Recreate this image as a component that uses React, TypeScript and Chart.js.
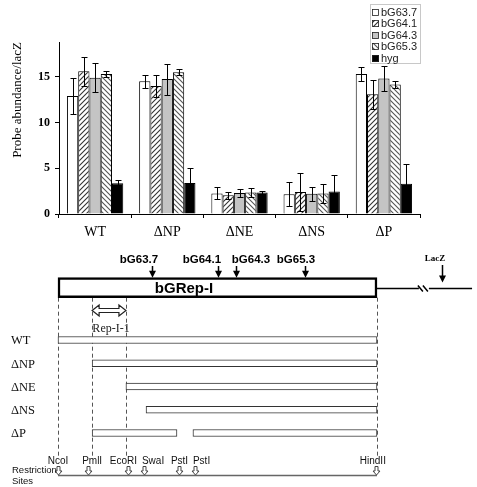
import React, { useEffect, useRef } from "react";
import { Chart, registerables } from "chart.js";
Chart.register(...registerables);

// ---------- bar chart data ----------
const groups = ["WT", "ΔNP", "ΔNE", "ΔNS", "ΔP"];
const probes = ["bG63.7", "bG64.1", "bG64.3", "bG65.3", "hyg"];
const bG637 = [12.9, 14.5, 2.25, 2.15, 15.3];
const bG637Err = [2.0, 0.7, 0.65, 1.3, 0.8];
const bG641 = [15.6, 14.0, 2.05, 2.4, 13.1];
const bG641Err = [1.6, 1.2, 0.4, 2.05, 1.6];
const bG643 = [14.9, 14.75, 2.3, 2.2, 14.8];
const bG643Err = [1.6, 1.7, 0.45, 0.75, 1.4];
const bG653 = [15.3, 15.5, 2.35, 2.25, 14.15];
const bG653Err = [0.3, 0.3, 0.5, 1.0, 0.35];
const hyg = [3.35, 3.4, 2.35, 2.45, 3.3];
const hygErr = [0.4, 1.6, 0.2, 1.8, 2.2];
const yTicks = [0, 5, 10, 15];
const yMax = 18.8;

// ---------- map data (positions in map units, NcoI = 0, HindII end = 1000) ----------
const constructs = ["WT", "ΔNP", "ΔNE", "ΔNS", "ΔP"];
const segRow = [0, 1, 2, 3, 4, 4];
const segStart = [0, 107, 213, 276, 107, 423];
const segEnd = [1000, 1000, 1000, 1000, 373, 1000];
const repSpan = [0, 1000];
const genes = ["bG63.7", "bG64.1", "bG64.3", "bG65.3"];
const genePos = [295, 502, 558, 774];
const geneLabelPos = [254, 451, 605, 746];
const boundaries = [0, 107, 213, 1000];
const rep11 = [107, 213];
const sites = ["NcoI", "PmlI", "EcoRI", "SwaI", "PstI", "PstI", "HindII"];
const sitePos = [0, 94, 219, 270, 379, 429, 997];
const siteLabelPos = [0, 107, 205, 298, 381, 450, 987];
const lacZPos = 1204;
const lacZLabelPos = 1182;
const lacZLineEnd = 1298;
const lacZBreak = 1147;

const SERIF = "'Liberation Serif', 'Times New Roman', Times, serif";
const SANS = "'Liberation Sans', Arial, Helvetica, sans-serif";

function hatch(ctx: CanvasRenderingContext2D, dir: number, color: string) {
  const s = 5;
  const c = document.createElement("canvas");
  c.width = s;
  c.height = s;
  const g = c.getContext("2d")!;
  g.fillStyle = "#ffffff";
  g.fillRect(0, 0, s, s);
  g.strokeStyle = color;
  g.lineWidth = 1.1;
  g.beginPath();
  if (dir > 0) {
    g.moveTo(-1, s + 1); g.lineTo(s + 1, -1);
    g.moveTo(-1, 1); g.lineTo(1, -1);
    g.moveTo(s - 1, s + 1); g.lineTo(s + 1, s - 1);
  } else {
    g.moveTo(-1, -1); g.lineTo(s + 1, s + 1);
    g.moveTo(s - 1, -1); g.lineTo(s + 1, 1);
    g.moveTo(-1, s - 1); g.lineTo(1, s + 1);
  }
  g.stroke();
  return ctx.createPattern(c, "repeat")!;
}

const errorBars = {
  id: "errorBars",
  afterDatasetsDraw(chart: any) {
    const { ctx } = chart;
    const y = chart.scales.y;
    ctx.save();
    ctx.strokeStyle = "#000";
    ctx.lineWidth = 1;
    chart.data.datasets.forEach((ds: any, i: number) => {
      const meta = chart.getDatasetMeta(i);
      meta.data.forEach((bar: any, j: number) => {
        const v = ds.data[j];
        const e = ds.errors[j];
        const x = Math.round(bar.x) + 0.5;
        const t = Math.round(y.getPixelForValue(v + e)) + 0.5;
        const b = Math.round(y.getPixelForValue(v - e)) + 0.5;
        ctx.beginPath();
        ctx.moveTo(x, t); ctx.lineTo(x, b);
        ctx.moveTo(x - 3, t); ctx.lineTo(x + 3, t);
        ctx.moveTo(x - 3, b); ctx.lineTo(x + 3, b);
        ctx.stroke();
      });
    });
    ctx.restore();
  },
};

const boxLegend = {
  id: "boxLegend",
  afterDraw(chart: any) {
    const { ctx } = chart;
    ctx.save();
    ctx.strokeStyle = "#c8c8c8";
    ctx.lineWidth = 1;
    ctx.strokeRect(370.5, 4.5, 50, 59);
    ctx.font = `11px ${SANS}`;
    ctx.textBaseline = "middle";
    ctx.textAlign = "left";
    chart.data.datasets.forEach((ds: any, i: number) => {
      const yy = 12 + i * 11.6;
      ctx.fillStyle = ds.backgroundColor;
      ctx.fillRect(372, Math.round(yy - 3.5), 7, 7);
      ctx.strokeStyle = "#222";
      ctx.lineWidth = 0.8;
      ctx.strokeRect(372.5, Math.round(yy - 3.5) + 0.5, 6, 6);
      ctx.fillStyle = "#222";
      ctx.fillText(ds.label, 381, yy + 0.5);
    });
    ctx.restore();
  },
};

function barConfig(ctx: CanvasRenderingContext2D): any {
  const values = [bG637, bG641, bG643, bG653, hyg];
  const errs = [bG637Err, bG641Err, bG643Err, bG653Err, hygErr];
  const fills: any[] = ["#ffffff", hatch(ctx, 1, "#333"), "#c4c4c4", hatch(ctx, -1, "#555"), "#000000"];
  return {
    type: "bar",
    data: {
      labels: groups,
      datasets: probes.map((p, i) => ({
        label: p,
        data: values[i],
        errors: errs[i],
        backgroundColor: fills[i],
        borderColor: "#000",
        borderWidth: 1,
        categoryPercentage: 0.78,
        barPercentage: 1,
      })),
    },
    options: {
      responsive: false,
      animation: false,
      events: [],
      layout: { padding: { top: 42, right: 57, left: 0, bottom: 0 } },
      plugins: { legend: { display: false }, tooltip: { enabled: false } },
      scales: {
        x: {
          grid: { display: true, drawOnChartArea: false, drawTicks: true, tickLength: 4, color: "#000", offset: true },
          border: { display: true, color: "#000", width: 1 },
          ticks: { font: { family: SERIF, size: 14 }, color: "#000", padding: 6, maxRotation: 0 },
          afterFit: (s: any) => { s.height = 26; },
        },
        y: {
          min: 0,
          max: yMax,
          afterBuildTicks: (s: any) => { s.ticks = yTicks.map((v) => ({ value: v })); },
          ticks: { font: { family: SERIF, size: 12, weight: "bold" }, color: "#000", padding: 5 },
          grid: { display: true, drawOnChartArea: false, tickLength: 4, color: "#000" },
          border: { display: true, color: "#000", width: 1 },
          title: {
            display: true,
            text: "Probe abundance/lacZ",
            align: "end",
            font: { family: SERIF, size: 13 },
            color: "#000",
            padding: { top: 10, bottom: 0 },
          },
          afterFit: (s: any) => { s.width = 59; },
        },
      },
    },
    plugins: [errorBars, boxLegend],
  };
}

const BOX_ROW = -2.25;

function downHollowArrow(ctx: CanvasRenderingContext2D, x: number, yT: number, yB: number) {
  ctx.beginPath();
  ctx.moveTo(x - 1.5, yT);
  ctx.lineTo(x + 1.5, yT);
  ctx.lineTo(x + 1.5, yB - 4);
  ctx.lineTo(x + 3.5, yB - 4);
  ctx.lineTo(x, yB);
  ctx.lineTo(x - 3.5, yB - 4);
  ctx.lineTo(x - 1.5, yB - 4);
  ctx.closePath();
  ctx.fillStyle = "#fff";
  ctx.fill();
  ctx.stroke();
}

function downSolidArrow(ctx: CanvasRenderingContext2D, x: number, yT: number, yB: number) {
  ctx.beginPath();
  ctx.moveTo(x, yT);
  ctx.lineTo(x, yB - 6);
  ctx.lineWidth = 1.5;
  ctx.stroke();
  ctx.beginPath();
  ctx.moveTo(x - 3.5, yB - 7);
  ctx.lineTo(x + 3.5, yB - 7);
  ctx.lineTo(x, yB);
  ctx.closePath();
  ctx.fill();
}

const mapDecor = {
  id: "mapDecor",
  beforeDatasetsDraw(chart: any) {
    const { ctx } = chart;
    const x = chart.scales.x;
    const y = chart.scales.y;
    const top = y.getPixelForValue(BOX_ROW) + 10;
    ctx.save();
    ctx.setLineDash([4, 3]);
    ctx.strokeStyle = "#555";
    ctx.lineWidth = 1;
    boundaries.forEach((b) => {
      const px = Math.round(x.getPixelForValue(b)) + 0.5;
      ctx.beginPath();
      ctx.moveTo(px, top);
      ctx.lineTo(px, 216);
      ctx.stroke();
    });
    ctx.restore();
  },
  afterDatasetsDraw(chart: any) {
    const { ctx } = chart;
    const x = chart.scales.x;
    const y = chart.scales.y;
    const boxY = y.getPixelForValue(BOX_ROW);
    ctx.save();

    // box title
    ctx.fillStyle = "#000";
    ctx.font = `bold 15px ${SANS}`;
    ctx.textAlign = "center";
    ctx.textBaseline = "middle";
    ctx.fillText("bGRep-I", 184, boxY + 1);

    // gene arrows
    ctx.font = `bold 11.5px ${SANS}`;
    genes.forEach((g, i) => {
      ctx.fillStyle = "#000";
      ctx.fillText(g, x.getPixelForValue(geneLabelPos[i]), 20);
      ctx.strokeStyle = "#000";
      downSolidArrow(ctx, Math.round(x.getPixelForValue(genePos[i])) + 0.5, 26, boxY - 10);
    });

    // LacZ line, break, arrow
    const xEnd = x.getPixelForValue(repSpan[1]);
    const xBrk = x.getPixelForValue(lacZBreak);
    const xLineEnd = x.getPixelForValue(lacZLineEnd);
    const ly = Math.round(boxY) + 0.5;
    ctx.strokeStyle = "#000";
    ctx.lineWidth = 1.5;
    ctx.beginPath();
    ctx.moveTo(xEnd, ly); ctx.lineTo(xBrk - 5, ly);
    ctx.moveTo(xBrk + 5, ly); ctx.lineTo(xLineEnd, ly);
    ctx.moveTo(xBrk - 6, ly - 3); ctx.lineTo(xBrk - 1, ly + 3);
    ctx.moveTo(xBrk - 1, ly - 3); ctx.lineTo(xBrk + 4, ly + 3);
    ctx.stroke();
    const lx = Math.round(x.getPixelForValue(lacZPos)) + 0.5;
    ctx.fillStyle = "#000";
    downSolidArrow(ctx, lx, 25, ly - 6);
    ctx.font = `bold 9px ${SERIF}`;
    ctx.fillText("LacZ", x.getPixelForValue(lacZLabelPos), 19);

    // Rep-I-1 double arrow
    const xl = x.getPixelForValue(rep11[0]);
    const xr = x.getPixelForValue(rep11[1]);
    const ay = 70.5;
    ctx.beginPath();
    ctx.moveTo(xl, ay);
    ctx.lineTo(xl + 7, ay - 5.5);
    ctx.lineTo(xl + 7, ay - 2);
    ctx.lineTo(xr - 7, ay - 2);
    ctx.lineTo(xr - 7, ay - 5.5);
    ctx.lineTo(xr, ay);
    ctx.lineTo(xr - 7, ay + 5.5);
    ctx.lineTo(xr - 7, ay + 2);
    ctx.lineTo(xl + 7, ay + 2);
    ctx.lineTo(xl + 7, ay + 5.5);
    ctx.closePath();
    ctx.fillStyle = "#fff";
    ctx.fill();
    ctx.strokeStyle = "#222";
    ctx.lineWidth = 1.2;
    ctx.stroke();
    ctx.fillStyle = "#222";
    ctx.font = `12px ${SERIF}`;
    ctx.fillText("Rep-I-1", (xl + xr) / 2 + 2, 89);

    // construct labels
    ctx.textAlign = "left";
    ctx.font = `12.5px ${SERIF}`;
    ctx.fillStyle = "#111";
    constructs.forEach((c, i) => {
      ctx.fillText(c, 11, y.getPixelForValue(i) + 1);
    });

    // restriction sites
    const base = 235.5;
    ctx.strokeStyle = "#666";
    ctx.lineWidth = 1.5;
    ctx.beginPath();
    ctx.moveTo(x.getPixelForValue(repSpan[0]), base);
    ctx.lineTo(x.getPixelForValue(repSpan[1]), base);
    ctx.stroke();
    ctx.lineWidth = 1;
    ctx.strokeStyle = "#444";
    ctx.font = `10px ${SANS}`;
    ctx.textAlign = "center";
    ctx.fillStyle = "#111";
    sites.forEach((s, i) => {
      ctx.fillStyle = "#111";
      ctx.fillText(s, x.getPixelForValue(siteLabelPos[i]), 221);
      downHollowArrow(ctx, Math.round(x.getPixelForValue(sitePos[i])) + 0.5, 226.5, 235);
    });
    ctx.fillStyle = "#111";
    ctx.textAlign = "left";
    ctx.font = `9.5px ${SANS}`;
    ctx.fillText("Restriction", 12, 230);
    ctx.fillText("Sites", 12, 241);
    ctx.restore();
  },
};

function mapConfig(): any {
  return {
    type: "bar",
    data: {
      datasets: [
        {
          label: "bGRep-I",
          data: [{ x: repSpan, y: BOX_ROW }],
          barThickness: 20,
          borderWidth: 2.5,
          borderColor: "#000",
          backgroundColor: "#fff",
          borderSkipped: false,
          grouped: false,
        },
        {
          label: "constructs",
          data: segStart.map((s, i) => ({ x: [s, segEnd[i]], y: segRow[i] })),
          barThickness: 7,
          borderWidth: 1,
          borderColor: "#333",
          backgroundColor: "#fff",
          borderSkipped: false,
          grouped: false,
        },
      ],
    },
    options: {
      indexAxis: "y",
      responsive: false,
      animation: false,
      events: [],
      layout: { padding: 0 },
      plugins: { legend: { display: false }, tooltip: { enabled: false } },
      scales: {
        x: { type: "linear", display: false, min: -181.8, max: 1313.5, offset: false },
        y: { type: "linear", display: false, min: -4.3, max: 6.32, reverse: true, offset: false, grid: { offset: false } },
      },
    },
    plugins: [mapDecor],
  };
}

export default function App() {
  const barRef = useRef<HTMLCanvasElement>(null);
  const mapRef = useRef<HTMLCanvasElement>(null);
  useEffect(() => {
    const c1 = new Chart(barRef.current!, barConfig(barRef.current!.getContext("2d")!));
    const c2 = new Chart(mapRef.current!, mapConfig());
    return () => {
      c1.destroy();
      c2.destroy();
    };
  }, []);
  return (
    <div style={{ position: "fixed", left: 0, top: 0, width: 477, height: 487, background: "#fff" }}>
      <canvas ref={barRef} width={477} height={240} style={{ position: "absolute", left: 0, top: 0 }} />
      <canvas ref={mapRef} width={477} height={247} style={{ position: "absolute", left: 0, top: 240 }} />
    </div>
  );
}
